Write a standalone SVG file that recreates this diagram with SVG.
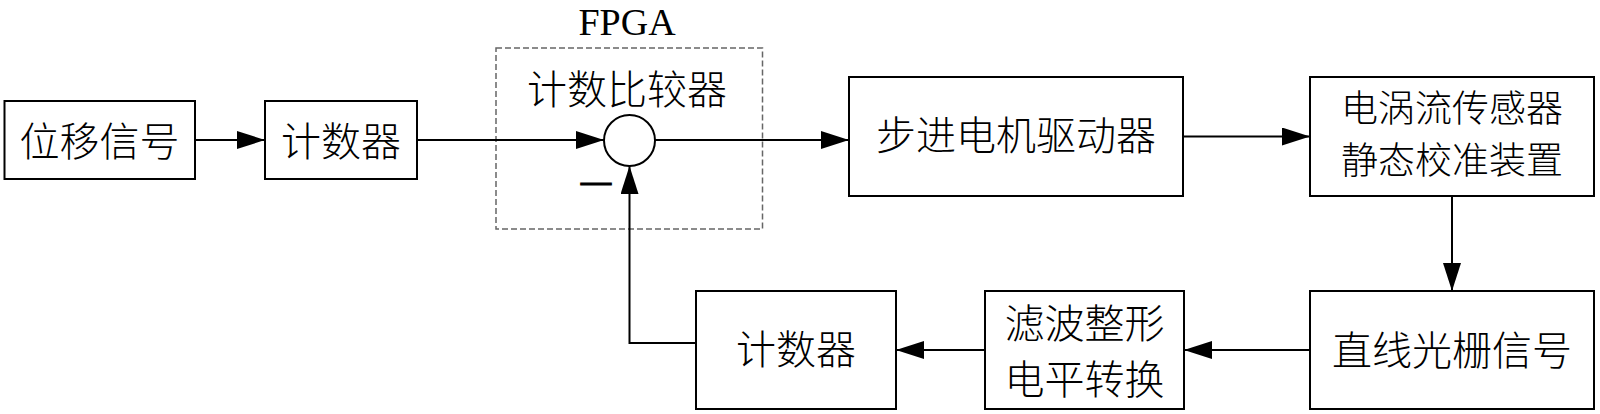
<svg xmlns="http://www.w3.org/2000/svg" width="1600" height="414" viewBox="0 0 1600 414">
<style>
.box{fill:#fff;stroke:#000;stroke-width:2}
.cn{font-family:"Noto Sans CJK SC","Noto Sans CJK JP",sans-serif;font-size:40px;font-weight:300;fill:#000;text-anchor:middle}
.cn2{font-size:37px}
.lat{font-family:"Liberation Serif","Times New Roman",serif;font-size:38px;fill:#000;text-anchor:middle}
.conn{fill:none;stroke:#000;stroke-width:2}
.dash{fill:none;stroke:#666;stroke-width:1.5;stroke-dasharray:6 3}
</style>
<defs>
<marker id="arr" markerUnits="userSpaceOnUse" markerWidth="28" markerHeight="18" refX="28" refY="9" orient="auto">
<path d="M0,0 L28,9 L0,18 Z" fill="#000"/>
</marker>
</defs>
<rect width="1600" height="414" fill="#fff"/>
<g id="fpga">
<rect class="dash" x="496" y="48" width="266.5" height="181"/>
<text class="lat" x="627" y="34.5">FPGA</text>
<text class="cn" x="627" y="103.5">计数比较器</text>
</g>
<g id="comparator">
<circle cx="629.5" cy="140.5" r="25.5" fill="#fff" stroke="#000" stroke-width="2"/>
<text x="596" y="192" font-family="Liberation Sans, Arial, sans-serif" font-size="31" text-anchor="middle" fill="#000" stroke="#000" stroke-width="0.8">—</text>
</g>
<g id="n1">
<rect class="box" x="4.5" y="101" width="190.5" height="78"/>
<text class="cn" x="99.5" y="156">位移信号</text>
</g>
<g id="n2">
<rect class="box" x="265" y="101" width="152" height="78"/>
<text class="cn" x="341" y="156">计数器</text>
</g>
<g id="n3">
<rect class="box" x="849" y="77" width="334" height="119"/>
<text class="cn" x="1016" y="150">步进电机驱动器</text>
</g>
<g id="n4">
<rect class="box" x="1310" y="77" width="284" height="119"/>
<text class="cn cn2" x="1452" y="122">电涡流传感器</text>
<text class="cn cn2" x="1452" y="174">静态校准装置</text>
</g>
<g id="n5">
<rect class="box" x="1310" y="291" width="284" height="118"/>
<text class="cn" x="1452" y="365">直线光栅信号</text>
</g>
<g id="n6">
<rect class="box" x="985" y="291" width="199" height="118"/>
<text class="cn" x="1084.5" y="337.5">滤波整形</text>
<text class="cn" x="1084.5" y="394">电平转换</text>
</g>
<g id="n7">
<rect class="box" x="696" y="291" width="200" height="118"/>
<text class="cn" x="796" y="364">计数器</text>
</g>
<g id="connectors">
<path class="conn" d="M195,140 H265" marker-end="url(#arr)"/>
<path class="conn" d="M417,140 H604" marker-end="url(#arr)"/>
<path class="conn" d="M655,140 H849" marker-end="url(#arr)"/>
<path class="conn" d="M1183,136.5 H1310" marker-end="url(#arr)"/>
<path class="conn" d="M1452,196 V291" marker-end="url(#arr)"/>
<path class="conn" d="M1310,350 H1184" marker-end="url(#arr)"/>
<path class="conn" d="M985,350 H896" marker-end="url(#arr)"/>
<path class="conn" d="M696,343 H629.5 V166" marker-end="url(#arr)"/>
</g>
</svg>
